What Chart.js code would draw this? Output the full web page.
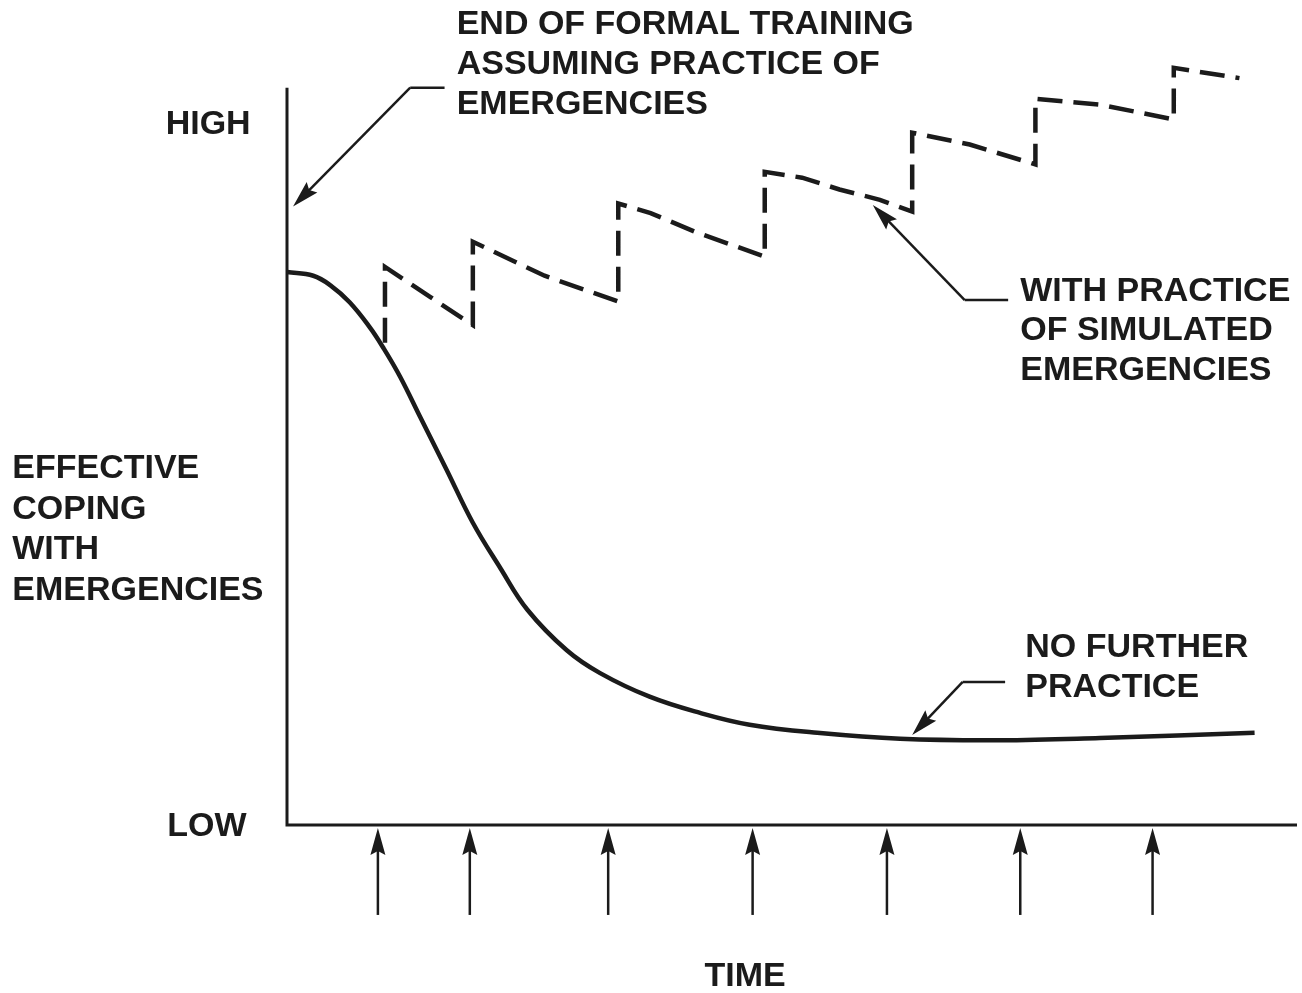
<!DOCTYPE html>
<html>
<head>
<meta charset="utf-8">
<script src="https://cdn.jsdelivr.net/npm/chart.js@4.4.0/dist/chart.umd.min.js"></script>
<style>
  html, body { margin: 0; padding: 0; background: #fff; }
  #wrap { width: 1302px; height: 993px; }
</style>
</head>
<body>
<div id="wrap"><canvas id="chart" width="1302" height="993"></canvas></div>
<script>
// Time axis runs 0..100, coping axis 0 (LOW) .. 100 (HIGH)
const noPracticeX = [0, 2.6, 4.3, 6.2, 8.2, 9.5, 11.2, 13.2, 15.8, 18.4, 21.1, 23.8, 27.7, 31.0, 35.9, 40.9, 45.8, 52.5, 60.7, 70.6, 80.5, 95.8];
const noPracticeY = [75.0, 74.5, 73.2, 70.9, 67.5, 64.8, 60.8, 55.3, 48.2, 41.0, 34.9, 29.2, 23.7, 20.6, 17.4, 15.2, 13.6, 12.5, 11.7, 11.5, 11.8, 12.5];

const withPracticeX = [9.7, 9.7, 14.2, 18.4, 18.4, 25.5, 32.8, 32.8, 36.0, 40.5, 47.3, 47.3, 51.0, 54.7, 58.7, 61.9, 61.9, 67.6, 74.1, 74.1, 80.5, 87.8, 87.8, 94.3];
const withPracticeY = [65.4, 75.7, 71.6, 67.8, 79.1, 74.5, 71.0, 84.3, 83.0, 80.4, 77.1, 88.6, 87.8, 86.2, 84.8, 83.2, 93.9, 92.3, 89.6, 98.5, 97.7, 95.7, 102.7, 101.3];

// moments of practice sessions (arrows under the time axis)
const practiceTimes = [9.0, 18.1, 31.8, 46.1, 59.4, 72.6, 85.7];

const yAxisLabel = ['EFFECTIVE', 'COPING', 'WITH', 'EMERGENCIES'];
const topNote = ['END OF FORMAL TRAINING', 'ASSUMING PRACTICE OF', 'EMERGENCIES'];
const practiceNote = ['WITH PRACTICE', 'OF SIMULATED', 'EMERGENCIES'];
const noPracticeNote = ['NO FURTHER', 'PRACTICE'];

const INK = '#1b1b1b';
const FONT = 'bold 34px "Liberation Sans", Arial, sans-serif';

function toPoints(xs, ys) {
    return xs.map((x, i) => ({ x: x, y: ys[i] }));
}

function drawArrow(ctx, x1, y1, x2, y2, width) {
    const ang = Math.atan2(y2 - y1, x2 - x1);
    const len = 27, half = 7.5;
    ctx.lineWidth = width;
    ctx.beginPath();
    ctx.moveTo(x1, y1);
    ctx.lineTo(x2 - Math.cos(ang) * len * 0.8, y2 - Math.sin(ang) * len * 0.8);
    ctx.stroke();
    ctx.beginPath();
    ctx.moveTo(x2, y2);
    ctx.lineTo(x2 - Math.cos(ang) * len - Math.sin(ang) * half, y2 - Math.sin(ang) * len + Math.cos(ang) * half);
    ctx.lineTo(x2 - Math.cos(ang) * len * 0.85, y2 - Math.sin(ang) * len * 0.85);
    ctx.lineTo(x2 - Math.cos(ang) * len + Math.sin(ang) * half, y2 - Math.sin(ang) * len - Math.cos(ang) * half);
    ctx.closePath();
    ctx.fill();
}

function drawLines(ctx, lines, x, y, step, align) {
    ctx.textAlign = align || 'left';
    lines.forEach((t, i) => ctx.fillText(t, x, y + i * step));
}

// axes, notes, leaders and practice arrows
const decorations = {
    id: 'decorations',
    afterDatasetsDraw(chart) {
        const ctx = chart.ctx;
        const xs = chart.scales.x, ys = chart.scales.y;
        const px = v => xs.getPixelForValue(v);
        const py = v => ys.getPixelForValue(v);
        ctx.save();
        ctx.strokeStyle = INK;
        ctx.fillStyle = INK;
        ctx.lineCap = 'butt';

        // axes
        ctx.lineWidth = 3;
        ctx.beginPath();
        ctx.moveTo(px(0), py(100));
        ctx.lineTo(px(0), py(0));
        ctx.lineTo(px(100), py(0));
        ctx.stroke();

        // practice arrows
        practiceTimes.forEach(t => drawArrow(ctx, px(t), py(-12.2), px(t), py(-0.4), 2.5));

        // leader: end of formal training
        ctx.lineWidth = 2.5;
        ctx.beginPath();
        ctx.moveTo(px(15.6), py(100));
        ctx.lineTo(px(12.2), py(100));
        ctx.stroke();
        drawArrow(ctx, px(12.2), py(100), px(0.6), py(83.9), 2.5);

        // leader: with practice
        ctx.beginPath();
        ctx.moveTo(px(71.4), py(71.2));
        ctx.lineTo(px(67.1), py(71.2));
        ctx.stroke();
        drawArrow(ctx, px(67.1), py(71.2), px(58.0), py(84.1), 2.5);

        // leader: no further practice
        ctx.beginPath();
        ctx.moveTo(px(71.1), py(19.4));
        ctx.lineTo(px(66.9), py(19.4));
        ctx.stroke();
        drawArrow(ctx, px(66.9), py(19.4), px(61.9), py(12.2), 2.5);

        // texts
        ctx.font = FONT;
        ctx.textBaseline = 'middle';
        drawLines(ctx, ['HIGH'], px(-3.6), py(95.0), 0, 'right');
        drawLines(ctx, ['LOW'], px(-4.0), py(-0.2), 0, 'right');
        drawLines(ctx, yAxisLabel, px(-27.2), py(48.3), 40.5, 'left');
        drawLines(ctx, ['TIME'], px(45.35), py(-20.6), 0, 'center');
        drawLines(ctx, topNote, px(16.8), py(108.5), 40, 'left');
        drawLines(ctx, practiceNote, px(72.6), py(72.4), 39.5, 'left');
        drawLines(ctx, noPracticeNote, px(73.1), py(24.0), 40, 'left');
        ctx.restore();
    }
};

new Chart(document.getElementById('chart'), {
    type: 'scatter',
    data: {
        datasets: [
            {
                label: 'No further practice',
                data: toPoints(noPracticeX, noPracticeY),
                showLine: true,
                borderColor: INK,
                borderWidth: 4.5,
                pointRadius: 0,
                tension: 0.4,
                clip: false
            },
            {
                label: 'With practice of simulated emergencies',
                data: toPoints(withPracticeX, withPracticeY),
                showLine: true,
                borderColor: INK,
                borderWidth: 4.5,
                borderDash: [25, 11],
                pointRadius: 0,
                tension: 0,
                clip: false
            }
        ]
    },
    options: {
        responsive: false,
        animation: false,
        events: [],
        layout: { padding: { left: 287, right: 5, top: 14, bottom: 168 } },
        plugins: {
            legend: { display: false },
            tooltip: { enabled: false }
        },
        scales: {
            x: { type: 'linear', min: 0, max: 100, display: false },
            y: { type: 'linear', min: 0, max: 110, display: false }
        }
    },
    plugins: [decorations]
});
</script>
</body>
</html>
